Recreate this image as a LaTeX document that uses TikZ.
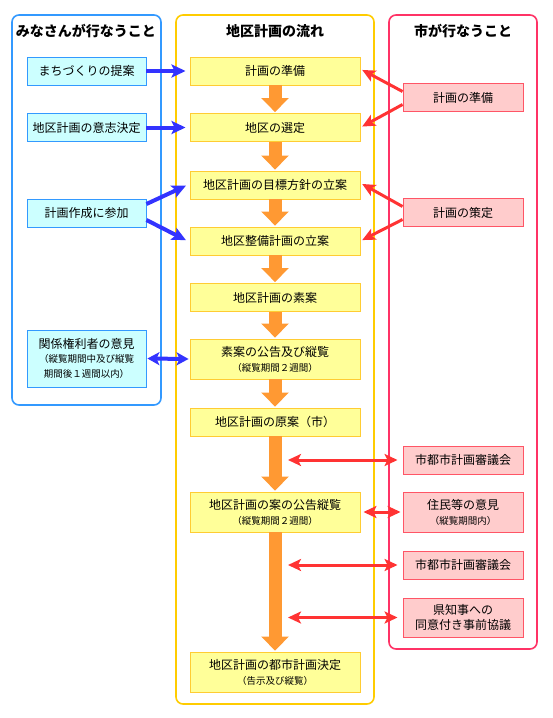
\documentclass[tikz,border=0pt]{standalone}
\usepackage{fontspec}
\setmainfont{Noto Sans CJK JP}
\usepackage{tikz}
\usetikzlibrary{arrows.meta,positioning}
\definecolor{PanelBlue}{HTML}{3399FF}
\definecolor{PanelGold}{HTML}{FFCC00}
\definecolor{PanelPink}{HTML}{FF3366}
\definecolor{SideFill}{HTML}{CCFFFF}
\definecolor{SideLine}{HTML}{3399FF}
\definecolor{FlowFill}{HTML}{FFFF99}
\definecolor{FlowLine}{HTML}{FFCC33}
\definecolor{CityFill}{HTML}{FFCCCC}
\definecolor{CityLine}{HTML}{FF5566}
\definecolor{StepOrange}{HTML}{FF9933}
\definecolor{ArrowBlue}{HTML}{3333FF}
\definecolor{ArrowRed}{HTML}{FF3333}
\newcommand{\subnote}[1]{{\fontsize{9.5}{13}\selectfont #1}}

\begin{document}
\begin{tikzpicture}[x=1pt, y=-1pt,
  every node/.style={font=\fontsize{12}{15}\selectfont},
  panel/.style={rounded corners=7pt, line width=1.6pt},
  head/.style={font=\fontsize{14}{16}\selectfont\bfseries},
  flowbox/.style={draw=FlowLine, fill=FlowFill, line width=0.9pt, minimum width=170pt,
    minimum height=28pt, inner sep=0pt, align=center},
  sidebox/.style={draw=SideLine, fill=SideFill, line width=0.9pt, minimum width=119pt,
    minimum height=28pt, inner sep=0pt, align=center},
  citybox/.style={draw=CityLine, fill=CityFill, line width=0.9pt, minimum width=120pt,
    minimum height=28pt, inner sep=0pt, align=center},
  downarrow/.style={StepOrange, line width=13pt, shorten >=1pt,
    -{Triangle[length=14pt,width=27pt]}},
  bluearrow/.style={ArrowBlue, line width=4pt, -{Stealth[length=14pt,width=13pt,inset=3pt]}},
  redarrow/.style={ArrowRed, line width=3pt, -{Stealth[length=13pt,width=12pt,inset=3pt]}},
  redboth/.style={ArrowRed, line width=3pt,
    {Stealth[length=13pt,width=12pt,inset=3pt]}-{Stealth[length=13pt,width=12pt,inset=3pt]}}]
  \useasboundingbox (0,0) rectangle (552,718);
  % Panels
  \draw[panel, PanelBlue] (12,15) rectangle (161,405);
  \draw[panel, PanelGold] (176,15) rectangle (374,704);
  \draw[panel, PanelPink] (389,15) rectangle (537,649);
  \node[head] (hl) at (86,31) {みなさんが行なうこと};
  \node[head] (hm) at (275,31) {地区計画の流れ};
  \node[head] (hr) at (463,31) {市が行なうこと};
  % Flow column
  \node[flowbox] (m1) at (275,71) {計画の準備};
  \node[flowbox] (m2) at (275,127.5) {地区の選定};
  \node[flowbox] (m3) at (275,185) {地区計画の目標方針の立案};
  \node[flowbox] (m4) at (275,241) {地区整備計画の立案};
  \node[flowbox] (m5) at (275,297.5) {地区計画の素案};
  \node[flowbox, minimum height=40pt] (m6) at (275,359)
    {素案の公告及び縦覧\\\subnote{（縦覧期間２週間）}};
  \node[flowbox] (m7) at (275,422) {地区計画の原案（市）};
  \node[flowbox, minimum height=40pt] (m8) at (275,512)
    {地区計画の案の公告縦覧\\\subnote{（縦覧期間２週間）}};
  \node[flowbox, minimum height=40pt] (m9) at (275,672)
    {地区計画の都市計画決定\\\subnote{（告示及び縦覧）}};
  \foreach \a/\b in {m1/m2, m2/m3, m3/m4, m4/m5, m5/m6, m6/m7, m7/m8, m8/m9}
    \draw[downarrow] (\a.south) -- (\b.north);
  % Residents column
  \node[sidebox] (l1) at (86.5,71) {まちづくりの提案};
  \node[sidebox] (l2) at (86.5,127.5) {地区計画の意志決定};
  \node[sidebox] (l3) at (86.5,213) {計画作成に参加};
  \node[sidebox, minimum height=57pt] (l4) at (86.5,358.5)
    {関係権利者の意見\\[-1pt]\subnote{（縦覧期間中及び縦覧}\\\subnote{期間後１週間以内）}};
  \draw[bluearrow, shorten >=4pt] (l1.east) -- (m1.west);
  \draw[bluearrow, shorten >=4pt] (l2.east) -- (m2.west);
  \draw[bluearrow, shorten >=4pt] ([yshift=9pt]l3.east) -- ([yshift=1pt]m3.west);
  \draw[bluearrow, shorten >=4pt] ([yshift=-7pt]l3.east) -- ([yshift=-1pt]m4.west);
  \draw[ArrowBlue, line width=4pt, shorten <=1pt, shorten >=1pt,
    {Stealth[length=12pt,width=13pt,inset=3pt]}-{Stealth[length=12pt,width=13pt,inset=3pt]}]
    (l4.east) -- (m6.west);
  % City column
  \node[citybox] (r1) at (463,97.5) {計画の準備};
  \node[citybox] (r2) at (463,212.5) {計画の策定};
  \node[citybox] (r3) at (463,460) {市都市計画審議会};
  \node[citybox, minimum height=40pt] (r4) at (463,512) {住民等の意見\\\subnote{（縦覧期間内）}};
  \node[citybox] (r5) at (463,565) {市都市計画審議会};
  \node[citybox, minimum height=39pt] (r6) at (463,617.5) {県知事への\\同意付き事前協議};
  \draw[redarrow, shorten >=2pt] ([yshift=6pt]r1.west) -- ([yshift=2pt]m1.east);
  \draw[redarrow, shorten >=2pt] ([yshift=-7pt]r1.west) -- (m2.east);
  \draw[redarrow, shorten >=2pt] ([yshift=6pt]r2.west) -- ([yshift=2pt]m3.east);
  \draw[redarrow, shorten >=2pt] ([yshift=-7pt]r2.west) -- (m4.east);
  \draw[redboth, shorten <=3pt, shorten >=2pt] (m8.east) -- (r4.west);
  \foreach \n in {3,5,6}{
    \coordinate (t\n) at (288,0 |- r\n.west);
    \draw[redboth, shorten >=5pt] (t\n) -- (r\n.west);
  }
\end{tikzpicture}
\end{document}
